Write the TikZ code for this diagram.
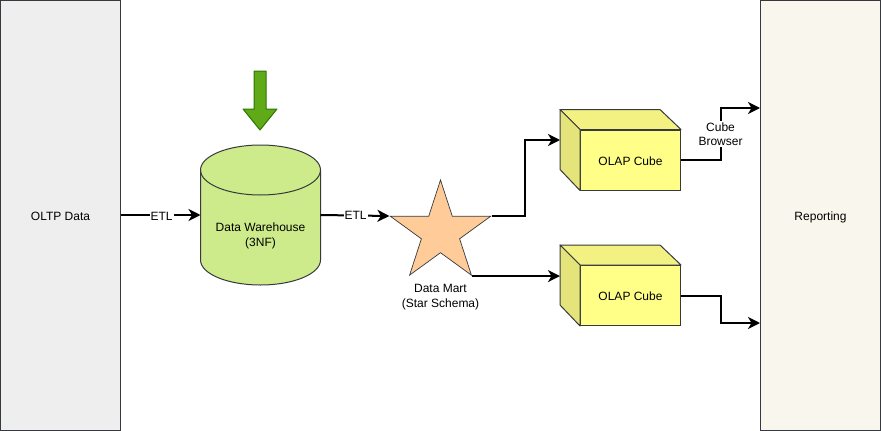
\documentclass[tikz,border=0pt]{standalone}
\usepackage{fontspec}
\setmainfont{Liberation Sans}
\usepackage{xcolor}
\definecolor{edgegrey}{HTML}{36393D}
\definecolor{oltpgrey}{HTML}{EEEEEE}
\definecolor{reportcream}{HTML}{F9F7ED}
\definecolor{dwgreen}{HTML}{CDEB8B}
\definecolor{arrowgreen}{HTML}{60A917}
\definecolor{arrowedge}{HTML}{2D7600}
\definecolor{martorange}{HTML}{FFCC99}
\definecolor{cubefront}{HTML}{FFFF88}
\definecolor{cubetop}{HTML}{F2F181}
\definecolor{cubeside}{HTML}{E5E47A}
\usetikzlibrary{shapes.geometric, arrows.meta, calc}
\tikzset{
  txt/.style={font=\fontsize{12}{14.5}\selectfont, align=center},
  panel/.style={txt, draw=edgegrey, line width=1pt, minimum width=120pt, minimum height=430pt, inner sep=0pt, text height=10.6pt, text depth=0pt},
  flow/.style={line width=2pt, draw=black, -{Stealth[length=12pt, width=12pt, inset=3.5pt]}},
  etl/.style={txt, fill=white, inner sep=1pt},
  cubebox/.style={txt, draw=edgegrey, line width=1pt, fill=cubefront, minimum width=100pt, minimum height=60pt, inner sep=0pt, text height=10.6pt, text depth=0pt},
  facet/.style={draw=edgegrey, line width=1pt, line join=round}
}
\begin{document}
\begin{tikzpicture}[x=1pt, y=-1pt]
  \useasboundingbox (0,0) rectangle (881,431);
  \node[panel, fill=oltpgrey] (oltp) at (60.5,215.5){OLTP Data};
  \node[panel, fill=reportcream] (reporting) at (820.5,215.5){Reporting};
  \node[minimum width=120pt, minimum height=140pt, inner sep=0pt, outer sep=0pt] (dw) at (260.5,215){};
  \draw[facet, fill=dwgreen] (dw.north west) ++(0,25) -- ++(0,90) arc[start angle=180, end angle=0, x radius=60, y radius=25] -- ++(0,-90) arc[start angle=0, end angle=-180, x radius=60, y radius=25] -- cycle;
  \draw[facet] (dw.north west) ++(0,25) arc[start angle=180, end angle=0, x radius=60, y radius=25];
  \node[txt] (dwlabel) at (260.5,236){Data Warehouse\\(3NF)};
  \draw[draw=arrowedge, fill=arrowgreen, line width=1pt, line join=round] (254,71) -- (266,71) -- (266,109) -- (277,109) -- (260,130) -- (243,109) -- (254,109) -- cycle;
  \node[star, star points=5, star point ratio=2.618, draw=edgegrey, line width=.7pt, fill=martorange, minimum size=105.2pt, inner sep=0pt] (mart) at (440.5,232.6){};
  \node[txt] (martlabel) at (440.5,297){Data Mart\\(Star Schema)};
  \foreach \n/\y in {cubeA/160, cubeB/295.5}{
    \node[cubebox] (\n) at (630.5,\y){OLAP Cube};
    \draw[facet, fill=cubetop] (\n.north west) -- ++(-20,-20) -- ++(100,0) -- (\n.north east) -- cycle;
    \draw[facet, fill=cubeside] (\n.north west) -- ++(-20,-20) -- ++(0,60) -- (\n.south west) -- cycle;
    \coordinate (\n-in) at ($(\n.west)+(-20,-20)$);
  }
  \coordinate (reportA) at (reporting.west |- 0,108);
  \coordinate (reportB) at (reporting.west |- 0,323);
  \draw[flow] (oltp.east |- dw.west) -- node[etl, pos=.51, yshift=-1pt]{ETL} (dw.west);
  \draw[flow] (dw.east) -- node[etl, pos=.51, yshift=.5pt]{ETL} (mart.outer point 2);
  \draw[flow] (mart.outer point 5) -| (525,140) -- (cubeA-in);
  \draw[flow] (mart.outer point 4) -- (mart.outer point 4 -| cubeB-in);
  \draw[flow] (cubeA.east) -| (720.5,108) -- (reportA);
  \draw[flow] (cubeB.east) -| (720.5,323) -- (reportB);
  \node[etl] (browser) at (720.5,134){Cube\\Browser};
\end{tikzpicture}
\end{document}
